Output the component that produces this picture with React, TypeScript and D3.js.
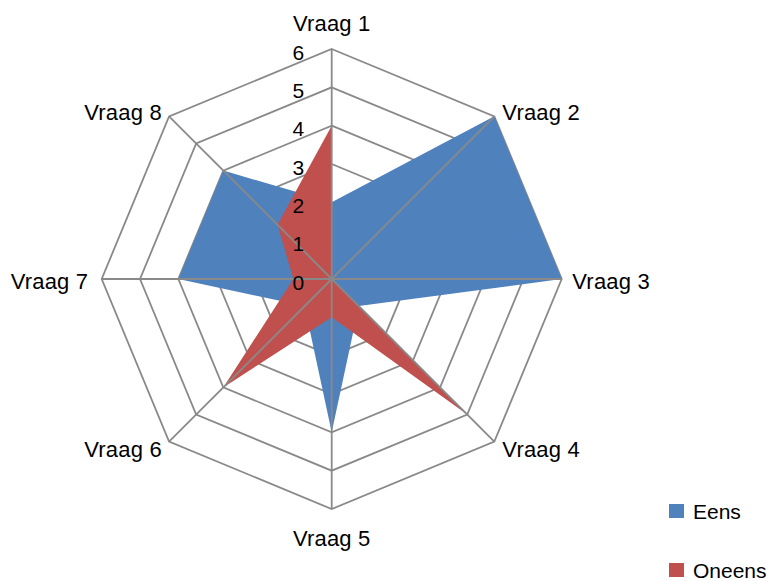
import React from "react";
import * as d3 from "d3";

const categories = ["Vraag 1", "Vraag 2", "Vraag 3", "Vraag 4", "Vraag 5", "Vraag 6", "Vraag 7", "Vraag 8"];
const eens = [2, 6, 6, 1, 4, 1, 4, 4];
const oneens = [4, 0, 0, 5, 1, 4, 1, 2];
const tickValues = [0, 1, 2, 3, 4, 5, 6];
const seriesNames = ["Eens", "Oneens"];
const seriesColors = ["#4F81BD", "#C0504D"];

const W = 776;
const H = 581;
const cx = 331.7;
const cy = 279;
const R = 230;
const FONT = "'Liberation Sans', Arial, sans-serif";

export default function App() {
  const r = d3.scaleLinear().domain([0, 6]).range([0, R]);
  const angle = d3
    .scaleLinear()
    .domain([0, categories.length])
    .range([0, 2 * Math.PI]);

  const pt = (i: number, v: number): [number, number] => {
    const a = angle(i);
    return [cx + r(v) * Math.sin(a), cy - r(v) * Math.cos(a)];
  };

  const ringPath = (v: number) =>
    d3.line()(categories.map((_, i) => pt(i, v))) + "Z";

  const radial = d3
    .lineRadial<number>()
    .angle((_, i) => angle(i))
    .radius((d) => r(d))
    .curve(d3.curveLinearClosed);

  const series = [eens, oneens];

  return (
    <svg
      width={W}
      height={H}
      style={{ position: "absolute", left: 0, top: 0, background: "#fff" }}
      fontFamily={FONT}
    >
      {/* rings */}
      <g fill="none" stroke="#898989" strokeWidth={1.8}>
        {tickValues
          .filter((t) => t > 0)
          .map((t) => (
            <path key={t} d={ringPath(t)} />
          ))}
      </g>
      {/* series */}
      <g transform={`translate(${cx},${cy})`}>
        {series.map((s, k) => (
          <path key={k} d={radial(s) || ""} fill={seriesColors[k]} stroke="none" />
        ))}
      </g>
      {/* spokes */}
      <g stroke="#898989" strokeWidth={1.8}>
        {categories.map((_, i) => {
          const [x, y] = pt(i, 6);
          return <line key={i} x1={cx} y1={cy} x2={x} y2={y} />;
        })}
      </g>
      {/* tick labels */}
      <g fontSize={21} fill="#000" textAnchor="end">
        {tickValues.map((t) => (
          <text key={t} x={cx - 27.5} y={cy - r(t) + 10.5}>
            {t}
          </text>
        ))}
      </g>
      {/* category labels */}
      <g fontSize={22} fill="#000" letterSpacing={0.2}>
        {categories.map((c, i) => {
          const a = angle(i);
          const s = Math.sin(a);
          const co = Math.cos(a);
          const [x, y] = pt(i, 6);
          let anchor: "start" | "middle" | "end" = "middle";
          let tx = x;
          if (s > 0.1) {
            anchor = "start";
            tx = x + (Math.abs(s) > 0.9 ? 10.6 : 8);
          } else if (s < -0.1) {
            anchor = "end";
            tx = x - (Math.abs(s) > 0.9 ? 13.4 : 7.2);
          }
          const ty = y + 9.5 + (Math.abs(co) > 0.9 ? -co * 27.5 : -co * 9);
          return (
            <text key={c} x={tx} y={ty} textAnchor={anchor}>
              {c}
            </text>
          );
        })}
      </g>
      {/* legend */}
      <g fontSize={21} fill="#000">
        {seriesNames.map((n, k) => (
          <g key={n} transform={`translate(669,${504 + k * 59})`}>
            <rect x={0} y={0} width={15} height={14} fill={seriesColors[k]} />
            <text x={24} y={15}>
              {n}
            </text>
          </g>
        ))}
      </g>
    </svg>
  );
}
